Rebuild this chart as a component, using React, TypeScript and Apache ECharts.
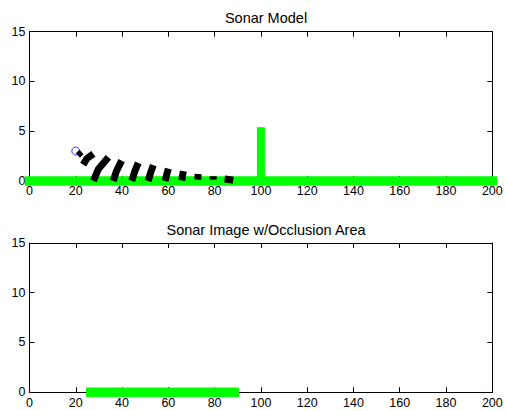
import React, { useEffect, useRef } from "react";
import * as echarts from "echarts";

// ---- data ----
const xTickValues = [0, 20, 40, 60, 80, 100, 120, 140, 160, 180, 200];
const yTickValues = [0, 5, 10, 15];
const titles = ["Sonar Model", "Sonar Image w/Occlusion Area"];

// top panel: ground line, target spike, sonar position, beam wavefronts
const groundX = [0, 200];
const groundY = [0, 0];
const spikeX = [100, 100];
const spikeY = [0, 5];
const sonarX = 20;
const sonarY = 3;
const headX = [20.8, 22.6];
const headY = [2.95, 2.5];
const beamTopX = [27.6, 34.1, 39.8, 47.0, 53.5, 60.0, 66.5, 72.9, 79.4, 84.3];
const beamTopY = [2.72, 2.39, 2.04, 1.81, 1.58, 1.24, 0.98, 0.7, 0.47, 0.2];
const beamMidX = [24.8, 29.8, 37.6, 45.4, 52.3, 59.3, 66.1, 72.8, 79.4, 86.2];
const beamMidY = [2.25, 1.2, 1.0, 0.9, 0.8, 0.62, 0.5, 0.42, 0.3, 0.14];
const beamBotX = [23.2, 27.6, 36.2, 44.2, 51.3, 58.6, 65.8, 72.7, 79.4, 88.0];
const beamBotY = [1.64, 0, 0, 0, 0, 0, 0.03, 0.13, 0.13, 0.07];

// bottom panel: occlusion area on the ground
const occlusionX = [26.5, 88.5];
const occlusionY = [0, 0];
const originMark = [0, 0];

const FONT = "Liberation Sans";
const GREEN = "#00ff00";

export default function App() {
  const ref = useRef<HTMLDivElement>(null);

  useEffect(() => {
    if (!ref.current) return;
    const chart = echarts.init(ref.current, null, { renderer: "svg" });

    const gridTops = [31.7, 243];
    const gridH = 149.2;
    const grids = gridTops.map((t) => ({
      left: 29.5,
      top: t,
      width: 462.8,
      height: gridH,
      show: false,
    }));

    const xAxes: any[] = [];
    const yAxes: any[] = [];
    [0, 1].forEach((g) => {
      ["bottom", "top"].forEach((pos) => {
        xAxes.push({
          type: "value",
          gridIndex: g,
          position: pos,
          min: xTickValues[0],
          max: xTickValues[xTickValues.length - 1],
          interval: xTickValues[1] - xTickValues[0],
          axisLine: { show: true, onZero: false, lineStyle: { color: "#000", width: 1 } },
          axisTick: { show: true, inside: true, length: 5, lineStyle: { color: "#000" } },
          axisLabel: {
            show: pos === "bottom",
            color: "#000",
            fontFamily: FONT,
            fontSize: 12.5,
            margin: 4,
            showMinLabel: true,
            showMaxLabel: true,
          },
          splitLine: { show: false },
        });
      });
      ["left", "right"].forEach((pos) => {
        yAxes.push({
          type: "value",
          gridIndex: g,
          position: pos,
          min: yTickValues[0],
          max: yTickValues[yTickValues.length - 1],
          interval: yTickValues[1] - yTickValues[0],
          axisLine: { show: true, onZero: false, lineStyle: { color: "#000", width: 1 } },
          axisTick: { show: true, inside: true, length: 5, lineStyle: { color: "#000" } },
          axisLabel: {
            show: pos === "left",
            color: "#000",
            fontFamily: FONT,
            fontSize: 12.5,
            margin: 4,
            showMinLabel: true,
            showMaxLabel: true,
          },
          splitLine: { show: false },
        });
      });
    });

    const zip = (xs: number[], ys: number[]) => xs.map((x, i) => [x, ys[i]]);

    const series: any[] = [];
    series.push({
      type: "line",
      xAxisIndex: 0,
      yAxisIndex: 0,
      data: zip(groundX, groundY),
      showSymbol: false,
      clip: false,
      lineStyle: { color: GREEN, width: 9.5, cap: "square" },
      z: 3,
    });
    series.push({
      type: "line",
      xAxisIndex: 0,
      yAxisIndex: 0,
      data: zip(spikeX, spikeY),
      showSymbol: false,
      clip: false,
      lineStyle: { color: GREEN, width: 8, cap: "square" },
      z: 3,
    });
    beamTopX.forEach((_, i) => {
      series.push({
        type: "line",
        xAxisIndex: 0,
        yAxisIndex: 0,
        data: [
          [beamTopX[i], beamTopY[i]],
          [beamMidX[i], beamMidY[i]],
          [beamBotX[i], beamBotY[i]],
        ],
        showSymbol: false,
        clip: false,
        lineStyle: { color: "#000", width: 7, cap: "butt", join: "round" },
        z: 4,
      });
    });
    series.push({
      type: "line",
      xAxisIndex: 0,
      yAxisIndex: 0,
      data: zip(headX, headY),
      showSymbol: false,
      clip: false,
      lineStyle: { color: "#000", width: 5, cap: "butt" },
      z: 4,
    });
    series.push({
      type: "scatter",
      xAxisIndex: 0,
      yAxisIndex: 0,
      data: [[sonarX, sonarY]],
      symbol: "circle",
      symbolSize: 8,
      itemStyle: { color: "transparent", borderColor: "#0000ff", borderWidth: 1 },
      z: 5,
    });
    series.push({
      type: "line",
      xAxisIndex: 2,
      yAxisIndex: 2,
      data: zip(occlusionX, occlusionY),
      showSymbol: false,
      clip: false,
      lineStyle: { color: GREEN, width: 9.5, cap: "square" },
      z: 3,
    });
    series.push({
      type: "scatter",
      xAxisIndex: 2,
      yAxisIndex: 2,
      data: [originMark],
      symbol: "circle",
      symbolSize: 2,
      itemStyle: { color: "#ff0000" },
      z: 5,
    });

    chart.setOption({
      animation: false,
      backgroundColor: "#fff",
      title: titles.map((t, i) => ({
        text: t,
        left: 261,
        textAlign: "center",
        top: gridTops[i] - 26,
        textStyle: { fontFamily: FONT, fontSize: 14.5, fontWeight: "normal", color: "#000" },
      })),
      grid: grids,
      xAxis: xAxes,
      yAxis: yAxes,
      series,
    });

    return () => chart.dispose();
  }, []);

  return (
    <div
      ref={ref}
      style={{ position: "absolute", left: 0, top: 0, width: 506, height: 411, background: "#fff" }}
    />
  );
}
